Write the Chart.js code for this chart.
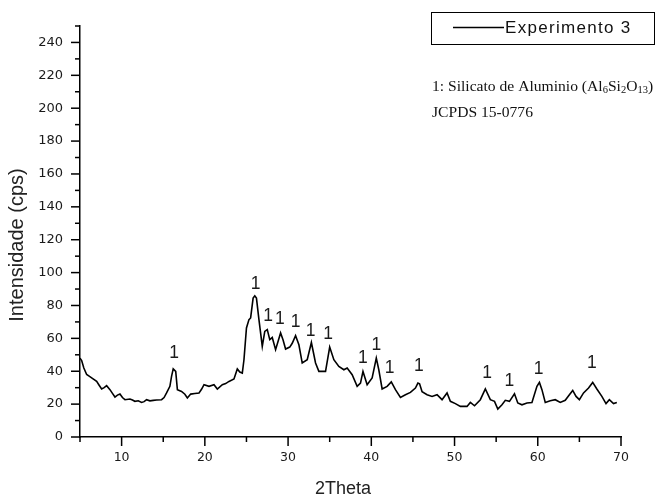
<!DOCTYPE html>
<html><head><meta charset="utf-8">
<script src="https://cdn.jsdelivr.net/npm/chart.js@4.4.1/dist/chart.umd.min.js"></script>
<style>html,body{margin:0;padding:0;background:#fff;}</style>
</head><body>
<canvas id="c" width="656" height="497"></canvas>
<script>
const seriesName = 'Experimento 3';
const twoTheta = [5.0,5.2,5.46,5.8,6.1,6.4,7.0,7.3,7.6,7.9,8.2,8.6,8.9,9.2,9.5,9.8,10.1,10.4,11.0,11.3,11.6,12.0,12.4,12.7,13.0,13.4,13.8,14.2,14.8,15.1,15.4,15.8,16.0,16.2,16.5,16.7,17.2,17.6,17.9,18.3,18.8,19.3,19.6,19.9,20.5,21.1,21.5,22.1,22.5,22.9,23.5,23.9,24.2,24.5,24.7,25.0,25.3,25.5,25.8,26.0,26.2,26.5,26.9,27.2,27.5,27.8,28.1,28.5,29.1,29.4,29.7,30.2,30.5,30.9,31.3,31.7,32.3,32.8,33.3,33.7,34.5,35.0,35.5,36.1,36.7,37.1,37.7,38.3,38.7,39.0,39.5,40.1,40.6,40.9,41.3,41.9,42.4,42.9,43.5,44.1,44.7,45.3,45.6,45.8,46.1,46.7,47.3,47.9,48.5,49.1,49.5,50.1,50.7,51.5,51.9,52.4,53.1,53.7,54.3,54.8,55.2,55.7,56.1,56.6,57.2,57.6,58.1,58.7,59.3,59.9,60.2,60.5,60.9,61.5,62.1,62.7,63.3,63.8,64.2,64.6,65.0,65.5,66.1,66.6,67.1,67.7,68.2,68.6,69.1,69.5];
const intensity = [48,46.5,42,38,37,36,33.8,31.5,29.2,30,31.2,28.8,26.5,24.3,25.5,26.2,24,22.7,23.1,22.5,21.7,22,21,21.5,22.7,22,22.3,22.5,22.7,24,26.8,30.8,36.9,41.4,39.9,28.8,27.7,26,23.7,26.1,26.5,26.8,29,31.8,30.8,31.8,29.2,31.8,32.5,33.8,35.3,41.4,39.5,38.9,47,66.3,71.4,72.4,84.5,85.9,84.5,71.4,55.1,64.2,65.3,59.2,60.5,53.1,63.3,59,53.5,54.7,57,61.6,56.1,45,47,57.5,45,39.9,39.9,54.7,47,42.9,40.9,42,37.9,30.8,32.8,39.9,31.8,35.9,48,40.9,29.2,30.8,33.5,28.8,24.1,25.7,27.1,29.8,32.8,32.4,27.5,25.7,24.7,25.7,22.7,26.8,21.7,20.3,18.6,18.6,21,19,22.7,29.2,22.7,21.7,17,19.6,22.3,21.7,26.3,20.7,19.6,20.7,21,30.8,33.2,28.8,21,22.1,22.7,21,22.3,25.7,28.3,24.7,22.7,26.8,29.8,33.2,29.2,24.7,20.3,22.7,20.3,21];
const xTickLabels = [10,20,30,40,50,60,70];
const xMinorTicks = [5,15,25,35,45,55,65];
const yTickLabels = [0,20,40,60,80,100,120,140,160,180,200,220,240];
const yMinorTicks = [10,30,50,70,90,110,130,150,170,190,210,230,250];
const peakX = [16.3,26.1,27.6,29.0,30.9,32.7,34.8,39.0,40.6,42.2,45.7,53.9,56.6,60.1,66.5];
const peakY = [51.1,92.7,73.8,71.4,69.7,64.2,62.8,48.1,56.1,42.0,42.9,38.9,33.8,41.5,45.0];
const peakLabels = ['1','1','1','1','1','1','1','1','1','1','1','1','1','1','1'];
const xTitle = '2Theta';
const yTitle = 'Intensidade (cps)';
const noteLine1 = [['1: Silicato de Aluminio (Al',false],['6',true],['Si',false],['2',true],['O',false],['13',true],[')',false]];
const noteLine2 = 'JCPDS 15-0776';

const decor = {
  id:'decor',
  afterDraw(chart){
    const ctx = chart.ctx, xs = chart.scales.x, ys = chart.scales.y;
    const ca = chart.chartArea;
    ctx.save();
    ctx.strokeStyle = '#000'; ctx.lineWidth = 1.5;
    const tick = (v, len, axis) => {
      ctx.beginPath();
      if (axis==='x'){ const p = xs.getPixelForValue(v); ctx.moveTo(p, ca.bottom); ctx.lineTo(p, ca.bottom+len); }
      else { const p = ys.getPixelForValue(v); ctx.moveTo(ca.left, p); ctx.lineTo(ca.left-len, p); }
      ctx.stroke();
    };
    xTickLabels.forEach(v=>tick(v,9,'x')); xMinorTicks.forEach(v=>tick(v,5,'x'));
    yTickLabels.forEach(v=>tick(v,9,'y')); yMinorTicks.forEach(v=>tick(v,5,'y'));
    ctx.fillStyle = '#1a1a1a'; ctx.font = '17.5px "Liberation Sans", Arial, sans-serif';
    ctx.textAlign='center'; ctx.textBaseline='middle';
    peakX.forEach((x,i)=>ctx.fillText(peakLabels[i], xs.getPixelForValue(x), ys.getPixelForValue(peakY[i])));
    ctx.fillStyle = '#222';
    ctx.font = '18px "Liberation Sans", Arial, sans-serif';
    ctx.fillText(xTitle, 343, 489);
    ctx.save(); ctx.translate(17, 245); ctx.rotate(-Math.PI/2);
    ctx.font = '20px "Liberation Sans", Arial, sans-serif';
    ctx.fillText(yTitle, 0, 0); ctx.restore();
    ctx.lineWidth = 1; ctx.strokeStyle = '#000';
    ctx.strokeRect(431.5, 12.5, 223, 32);
    ctx.lineWidth = 1.5; ctx.beginPath(); ctx.moveTo(453, 27.5); ctx.lineTo(504, 27.5); ctx.stroke();
    ctx.textAlign='left'; ctx.fillStyle='#111';
    ctx.font = '17px "Liberation Sans", Arial, sans-serif';
    try { ctx.letterSpacing = '1.3px'; } catch(e){}
    ctx.fillText(chart.data.datasets[0].label, 505, 28.5);
    try { ctx.letterSpacing = '0px'; } catch(e){}
    ctx.textBaseline='alphabetic'; ctx.fillStyle='#111';
    let x = 432;
    noteLine1.forEach(([t,sub])=>{
      ctx.font = sub ? '10.5px "Liberation Serif", serif' : '15.6px "Liberation Serif", serif';
      ctx.fillText(t, x, sub ? 93 : 90.5);
      x += ctx.measureText(t).width;
    });
    ctx.font = '15.6px "Liberation Serif", serif';
    ctx.fillText(noteLine2, 432, 117);
    ctx.restore();
  }
};

new Chart(document.getElementById('c'), {
  type:'line',
  data:{ datasets:[{ label: seriesName, data: twoTheta.map((x,i)=>({x, y: intensity[i]})),
    borderColor:'#000', borderWidth:1.6, pointRadius:0, tension:0, fill:false }]},
  options:{
    responsive:false, animation:false,
    layout:{ padding:{ top:26, right:35, bottom:0, left:0 } },
    plugins:{ legend:{display:false}, tooltip:{enabled:false} },
    scales:{
      x:{ type:'linear', min:5, max:70,
        afterBuildTicks(s){ s.ticks = xTickLabels.map(v=>({value:v})); },
        afterFit(s){ s.height = 60; },
        grid:{display:false, drawTicks:false},
        border:{display:true, color:'#000', width:1.5},
        ticks:{ padding:13, color:'#1a1a1a', font:{family:'"DejaVu Sans"', size:12.5}, maxRotation:0 } },
      y:{ type:'linear', min:0, max:250,
        afterBuildTicks(s){ s.ticks = yTickLabels.map(v=>({value:v})); },
        afterFit(s){ s.width = 80; },
        grid:{display:false, drawTicks:false},
        border:{display:true, color:'#000', width:1.5},
        ticks:{ padding:17, color:'#1a1a1a', font:{family:'"DejaVu Sans"', size:13} } }
    }
  },
  plugins:[decor]
});
</script>
</body></html>
